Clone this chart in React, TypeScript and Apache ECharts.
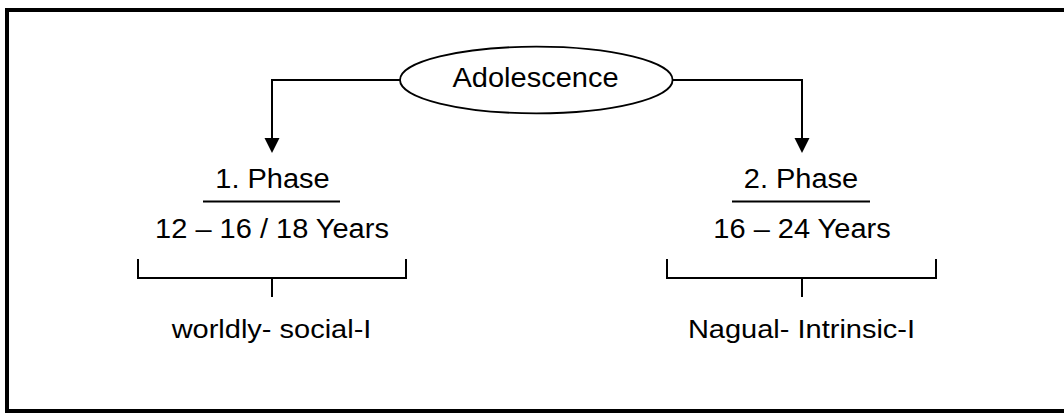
import React, { useEffect, useRef } from "react";
import * as echarts from "echarts";

const rootLabel = "Adolescence";
const phaseLabels = ["1. Phase", "2. Phase"];
const ageRanges = ["12 – 16 / 18 Years", "16 – 24 Years"];
const selfLabels = ["worldly- social-I", "Nagual- Intrinsic-I"];

const FONT = "'Liberation Sans', Arial, sans-serif";

export default function App() {
  const ref = useRef<HTMLDivElement>(null);

  useEffect(() => {
    if (!ref.current) return;
    const chart = echarts.init(ref.current, null, { renderer: "svg" });

    const branchX = [272, 802];
    const bracketL = [138, 667];
    const bracketR = [406, 936];
    const sepL = [203, 732];
    const sepR = [340, 870];
    const ell = { cx: 536.3, cy: 80, rx: 136.3, ry: 33.3 };

    const topFs = 27.5;
    const topSx = 1.055;
    const botFs = 25;
    const botSx = 1.16;

    const text = (s: string, x: number, baseline: number, fs: number, sx: number) => ({
      type: "text",
      x,
      y: baseline - 0.35 * fs,
      scaleX: sx,
      z: 10,
      style: {
        text: s,
        x: 0,
        y: 0,
        fill: "#000",
        font: `${fs}px ${FONT}`,
        align: "center",
        verticalAlign: "middle",
      },
    });

    const els: any[] = [];
    // outer frame
    els.push({
      type: "rect",
      shape: { x: 7, y: 10, width: 1070, height: 401 },
      style: { fill: "none", stroke: "#000", lineWidth: 4 },
    });

    branchX.forEach((bx, i) => {
      const edgeX = i === 0 ? ell.cx - ell.rx : ell.cx + ell.rx;
      els.push({
        type: "polyline",
        shape: { points: [[edgeX, ell.cy], [bx, ell.cy], [bx, 140]] },
        style: { fill: "none", stroke: "#000", lineWidth: 2 },
      });
      els.push({
        type: "polygon",
        shape: { points: [[bx - 7.5, 138], [bx + 7.5, 138], [bx, 153]] },
        style: { fill: "#000", stroke: "none" },
      });
      els.push(text(phaseLabels[i], bx + (i === 0 ? 0.5 : -1), 188, topFs, topSx));
      els.push({
        type: "line",
        shape: { x1: sepL[i], y1: 201.5, x2: sepR[i], y2: 201.5 },
        style: { stroke: "#000", lineWidth: 1.8 },
      });
      els.push(text(ageRanges[i], bx, 238, topFs, topSx));
      els.push({
        type: "polyline",
        shape: {
          points: [
            [bracketL[i], 259],
            [bracketL[i], 278],
            [bracketR[i], 278],
            [bracketR[i], 259],
          ],
        },
        style: { fill: "none", stroke: "#000", lineWidth: 2 },
      });
      els.push({
        type: "line",
        shape: { x1: bx, y1: 278, x2: bx, y2: 297 },
        style: { stroke: "#000", lineWidth: 2 },
      });
      els.push(text(selfLabels[i], bx - 0.5, 338, botFs, botSx));
    });

    els.push({
      type: "ellipse",
      shape: ell,
      z: 5,
      style: { fill: "#fff", stroke: "#000", lineWidth: 1.8 },
    });
    els.push(text(rootLabel, 535.5, 86.7, topFs, topSx));

    chart.setOption({
      animation: false,
      backgroundColor: "#fff",
      graphic: { elements: els },
    });

    return () => chart.dispose();
  }, []);

  return (
    <div
      ref={ref}
      style={{ position: "absolute", left: 0, top: 0, width: 1064, height: 413 }}
    />
  );
}
